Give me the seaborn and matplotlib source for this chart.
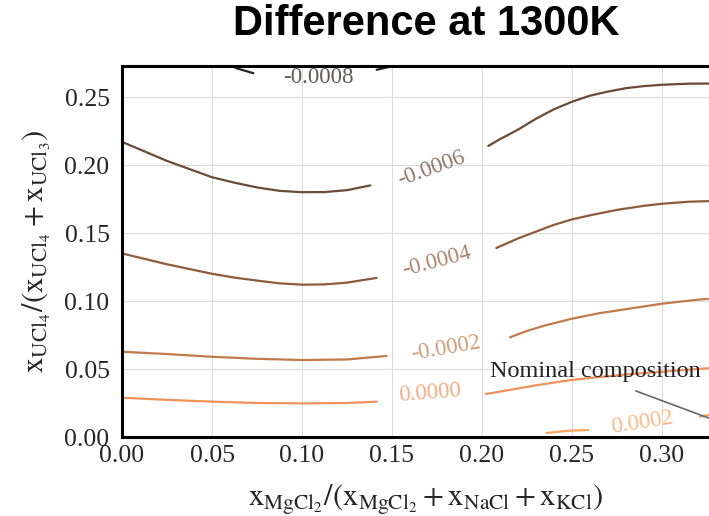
import numpy as np
import pandas as pd
import matplotlib
matplotlib.use("Agg")
import matplotlib.pyplot as plt
from matplotlib.ticker import FormatStrFormatter
import seaborn as sns

# contour levels and their colours (dark brown -> orange)
levels = ["-0.0008", "-0.0006", "-0.0004", "-0.0002", "0.0000", "0.0002"]
level_colors = ["#2b2420", "#6b4a36", "#8e5b3d", "#c27a4b", "#f0915a", "#fba262"]

# contour lines, split where the inline labels sit
x_m0008_a = [0.050, 0.058, 0.064, 0.073]
y_m0008_a = [0.278, 0.2745, 0.271, 0.2675]
x_m0008_b = [0.1415, 0.149, 0.160]
y_m0008_b = [0.270, 0.2723, 0.278]

x_m0006_a = [0.000, 0.0125, 0.025, 0.0375, 0.050, 0.0625, 0.075, 0.0875,
             0.100, 0.1125, 0.125, 0.138]
y_m0006_a = [0.217, 0.210, 0.203, 0.197, 0.191, 0.187, 0.1835, 0.181,
             0.1800, 0.1801, 0.1815, 0.185]
x_m0006_b = [0.2035, 0.210, 0.220, 0.230, 0.240, 0.250, 0.260, 0.270,
             0.280, 0.290, 0.300, 0.315, 0.340]
y_m0006_b = [0.214, 0.219, 0.226, 0.234, 0.241, 0.2465, 0.251, 0.254,
             0.2565, 0.258, 0.259, 0.2598, 0.260]

x_m0004_a = [0.000, 0.0125, 0.025, 0.0375, 0.050, 0.0625, 0.075, 0.0875,
             0.100, 0.1125, 0.125, 0.1415]
y_m0004_a = [0.135, 0.131, 0.127, 0.1235, 0.120, 0.1172, 0.115, 0.113,
             0.112, 0.1122, 0.1135, 0.117]
x_m0004_b = [0.208, 0.220, 0.230, 0.240, 0.250, 0.260, 0.275, 0.290,
             0.300, 0.315, 0.340]
y_m0004_b = [0.139, 0.146, 0.151, 0.156, 0.160, 0.163, 0.167, 0.170,
             0.1715, 0.173, 0.174]

x_m0002_a = [0.000, 0.025, 0.050, 0.075, 0.100, 0.125, 0.147]
y_m0002_a = [0.0627, 0.061, 0.059, 0.0575, 0.0566, 0.057, 0.0596]
x_m0002_b = [0.2156, 0.225, 0.235, 0.250, 0.265, 0.280, 0.300, 0.320, 0.340]
y_m0002_b = [0.0733, 0.078, 0.082, 0.087, 0.091, 0.094, 0.098, 0.101, 0.103]

x_0000_a = [0.000, 0.025, 0.050, 0.075, 0.100, 0.125, 0.1415]
y_0000_a = [0.0289, 0.0273, 0.026, 0.025, 0.0247, 0.025, 0.026]
x_0000_b = [0.2022, 0.215, 0.230, 0.250, 0.265, 0.280, 0.300, 0.320, 0.340]
y_0000_b = [0.0316, 0.0345, 0.038, 0.042, 0.044, 0.046, 0.048, 0.050, 0.052]

x_p0002_a = [0.236, 0.250, 0.259]
y_p0002_a = [0.003, 0.0048, 0.0051]
x_p0002_b = [0.321, 0.330, 0.340]
y_p0002_b = [0.015, 0.017, 0.019]

# label positions / angles on each contour
label_x = [0.109, 0.172, 0.175, 0.180, 0.171, 0.289]
label_y = [0.264, 0.197, 0.129, 0.065, 0.0325, 0.0103]
label_rot = [0, 20, 15, 10, 4.5, 9]

segments = [
    ("-0.0008", x_m0008_a, y_m0008_a), ("-0.0008", x_m0008_b, y_m0008_b),
    ("-0.0006", x_m0006_a, y_m0006_a), ("-0.0006", x_m0006_b, y_m0006_b),
    ("-0.0004", x_m0004_a, y_m0004_a), ("-0.0004", x_m0004_b, y_m0004_b),
    ("-0.0002", x_m0002_a, y_m0002_a), ("-0.0002", x_m0002_b, y_m0002_b),
    ("0.0000", x_0000_a, y_0000_a), ("0.0000", x_0000_b, y_0000_b),
    ("0.0002", x_p0002_a, y_p0002_a), ("0.0002", x_p0002_b, y_p0002_b),
]

rows = []
for seg_id, (lev, xs, ys) in enumerate(segments):
    for xv, yv in zip(xs, ys):
        rows.append({"x": xv, "y": yv, "level": lev, "segment": seg_id})
df = pd.DataFrame(rows)

sns.set_style("whitegrid", {"grid.color": "#dcdcdc", "axes.edgecolor": "black"})
plt.rcParams["font.family"] = ["Liberation Serif", "DejaVu Serif"]
plt.rcParams["mathtext.fontset"] = "stix"

fig = plt.figure(figsize=(7.09, 5.16), dpi=100)
ax = fig.add_axes([0.1721, 0.1531, 0.8575, 0.719])

palette = dict(zip(levels, level_colors))
sns.lineplot(data=df, x="x", y="y", hue="level", units="segment",
             estimator=None, sort=False, palette=palette, linewidth=1.6,
             legend=False, ax=ax)
for ln in ax.lines:
    ln.set_solid_joinstyle("round")
    ln.set_solid_capstyle("round")

for lev, col, lx, ly, rot in zip(levels, level_colors, label_x, label_y, label_rot):
    ax.text(lx, ly, lev, color=col, alpha=0.75, fontsize=16.5,
            rotation=rot, rotation_mode="anchor", ha="center", va="center")

# nominal composition annotation
ax.text(0.2628, 0.0478, "Nominal composition", fontsize=17.5, color="#222222",
        ha="center", va="center")
ax.annotate("", xy=(0.338, 0.008), xytext=(0.284, 0.0346),
            arrowprops=dict(arrowstyle="-", color="#666666", lw=1.2),
            annotation_clip=False)

ax.set_xlim(0, 0.3378)
ax.set_ylim(0, 0.2728)
ax.set_xticks(np.arange(0, 0.31, 0.05))
ax.set_yticks(np.arange(0, 0.26, 0.05))
ax.xaxis.set_major_formatter(FormatStrFormatter("%.2f"))
ax.yaxis.set_major_formatter(FormatStrFormatter("%.2f"))
ax.tick_params(length=0, labelsize=18.5, pad=6)
ax.tick_params(axis="y", pad=9)
for s in ax.spines.values():
    s.set_color("black")
    s.set_linewidth(2.2)

ax.set_xlabel(r"$\mathrm{x_{MgCl_2}/(x_{MgCl_2}+x_{NaCl}+x_{KCl})}$", fontsize=22, labelpad=11)
ax.set_ylabel(r"$\mathrm{x_{UCl_4}/(x_{UCl_4}+x_{UCl_3})}$", fontsize=22, labelpad=8)
ax.set_title("Difference at 1300K", fontsize=30, fontweight="bold", color="black",
             family=["Liberation Sans", "DejaVu Sans"], pad=22)

fig.savefig("out.png", dpi=100)
